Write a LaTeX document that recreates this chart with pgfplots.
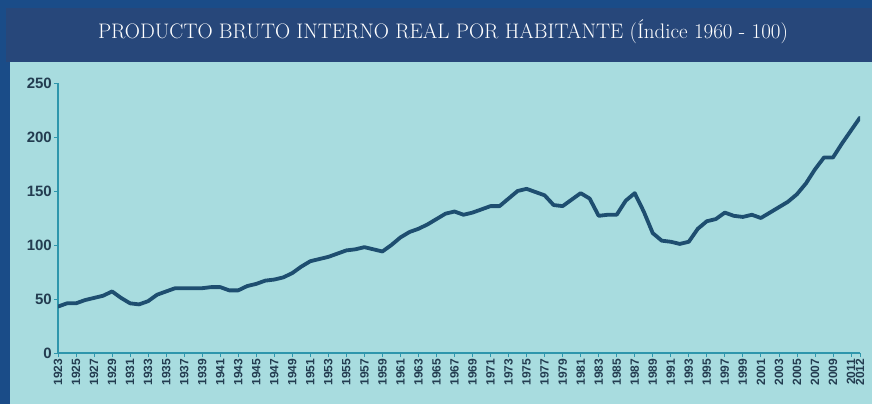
\documentclass[border=0pt]{standalone}
\usepackage{pgfplots}
\pgfplotsset{compat=1.18}
\usepackage{fontspec}
\newfontfamily\tickfont{Liberation Sans}
\definecolor{outerblue}{RGB}{26,76,136}
\definecolor{bandblue}{RGB}{39,71,122}
\definecolor{panel}{RGB}{168,220,223}
\definecolor{linecol}{RGB}{30,78,112}
\definecolor{axiscol}{RGB}{46,150,172}
\definecolor{labcol}{RGB}{35,60,80}
\pgfplotstableread{
year val
1923 43
1924 46
1925 46
1926 49
1927 51
1928 53
1929 57
1930 51
1931 46
1932 45
1933 48
1934 54
1935 57
1936 60
1937 60
1938 60
1939 60
1940 61
1941 61
1942 58
1943 58
1944 62
1945 64
1946 67
1947 68
1948 70
1949 74
1950 80
1951 85
1952 87
1953 89
1954 92
1955 95
1956 96
1957 98
1958 96
1959 94
1960 100
1961 107
1962 112
1963 115
1964 119
1965 124
1966 129
1967 131
1968 128
1969 130
1970 133
1971 136
1972 136
1973 143
1974 150
1975 152
1976 149
1977 146
1978 137
1979 136
1980 142
1981 148
1982 143
1983 127
1984 128
1985 128
1986 141
1987 148
1988 131
1989 111
1990 104
1991 103
1992 101
1993 103
1994 115
1995 122
1996 124
1997 130
1998 127
1999 126
2000 128
2001 125
2002 130
2003 135
2004 140
2005 147
2006 157
2007 170
2008 181
2009 181
2010 194
2011 206
2012 218
}\pibdata
\begin{document}
\begin{tikzpicture}[x=1pt,y=1pt]
\fill[outerblue] (0,0) rectangle (872,404);
\fill[bandblue] (6,342) rectangle (872,396);
\fill[panel] (10,0) rectangle (872,342);
\node[text=white, font=\fontsize{21}{22}\selectfont] at (443,372) {PRODUCTO BRUTO INTERNO REAL POR HABITANTE (Índice 1960 - 100)};
\begin{axis}[
  at={(58pt,51pt)}, anchor=south west,
  scale only axis, width=802pt, height=270pt,
  xmin=1923, xmax=2012, ymin=0, ymax=250,
  axis lines*=left,
  axis line style={axiscol, line width=1.5pt},
  tick style={axiscol, line width=0.8pt},
  tick align=outside, major tick length=4pt,
  xtick={1923,1925,...,2011,2012},
  ytick={0,50,...,250},
  /pgf/number format/assume math mode=true,
  /pgf/number format/1000 sep={},
  xticklabel style={rotate=90, anchor=east, font=\tickfont\bfseries\fontsize{12}{12}\selectfont, text=labcol, inner sep=1.5pt},
  yticklabel style={font=\tickfont\bfseries\fontsize{15}{15}\selectfont, text=labcol, inner sep=2pt},
]
\addplot[color=linecol, line width=3.8pt, line join=round, line cap=round] table[x=year, y=val] {\pibdata};
\end{axis}
\end{tikzpicture}
\end{document}
